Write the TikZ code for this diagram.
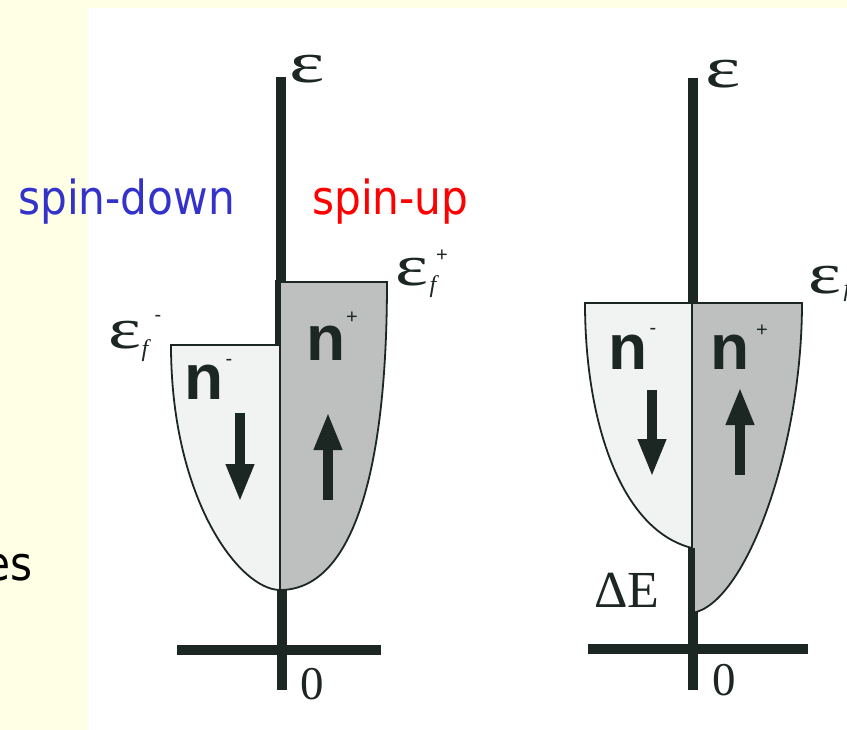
\documentclass[tikz,border=0pt]{standalone}
\usepackage{fontspec}
\usepackage{graphicx}
\usetikzlibrary{arrows.meta}
\setmainfont{Liberation Serif}
\newfontfamily\tah{DejaVu Sans}[FakeStretch=0.9]
\newfontfamily\hel{Liberation Sans}
\definecolor{cream}{RGB}{255,255,229}
\definecolor{ink}{RGB}{28,38,34}
\definecolor{upgrey}{RGB}{190,192,192}
\definecolor{dngrey}{RGB}{241,242,242}
\definecolor{spinblue}{RGB}{51,51,204}
\definecolor{spinred}{RGB}{255,0,0}
\begin{document}
\begin{tikzpicture}[x=1pt,y=-1pt,
  axisline/.style={draw=ink,line width=10pt},
  outline/.style={draw=ink,line width=1.8pt},
  bigarrow/.style={draw=ink,line width=10pt,-{Triangle[width=26pt,length=38pt]}},
  lbl/.style={inner sep=0pt,text=ink},
  nlab/.style={lbl,font=\hel\bfseries\fontsize{64}{64}\selectfont},
  suplab/.style={lbl,font=\hel\fontsize{20}{20}\selectfont},
  epslab/.style={lbl,font=\fontsize{58}{58}\selectfont},
  sublab/.style={lbl,font=\itshape\fontsize{24}{24}\selectfont},
  numlab/.style={lbl,font=\fontsize{47}{47}\selectfont},
  spinlab/.style={inner sep=0pt,font=\tah\fontsize{47}{50}\selectfont}
]
\useasboundingbox (0,0) rectangle (847,730);
\fill[cream] (0,0) rectangle (847,730);
\fill[white] (88,8) rectangle (847,730);

% ---------- left diagram ----------
\path[fill=upgrey] (280,282) -- (387,282) .. controls (387,480) and (350,590) .. (280,590) -- cycle;
\path[fill=dngrey] (280,345) -- (171,345) .. controls (171,500) and (240,590) .. (280,590) -- cycle;
\draw[outline] (280,282) -- (387,282) .. controls (387,480) and (350,590) .. (280,590);
\draw[outline] (280,345) -- (171,345) .. controls (171,500) and (240,590) .. (280,590);
\draw[outline] (280,345) -- (280,590);
\draw[axisline] (281,77) -- (281,282);
\draw[draw=ink,line width=6pt] (278,280) -- (278,345);
\draw[axisline] (282,590) -- (282,690);
\draw[axisline] (177,650) -- (381,650);
\draw[bigarrow] (240,413) -- (240,502);
\draw[bigarrow] (328,500) -- (328,412);

\node[epslab] (epsL) at (307,69) {\scalebox{1.45}[1]{ε}};
\node[epslab] (efpL) at (412,272) {\scalebox{1.35}[1]{ε}};
\node[sublab] (efpLsub) at (433,287) {f};
\node[suplab] (efpLsup) at (442,256) {+};
\node[epslab] (efmL) at (125,335) {\scalebox{1.35}[1]{ε}};
\node[sublab] (efmLsub) at (145,351) {f};
\node[suplab] (efmLsup) at (158,318) {-};
\node[nlab] (nmL) at (204,382) {n};
\node[suplab] (nmLsup) at (229,362) {-};
\node[nlab] (npL) at (326,343) {n};
\node[suplab] (npLsup) at (352,318) {+};
\node[numlab] (zeroL) at (312,684) {0};

% ---------- right diagram ----------
\path[fill=dngrey] (692,303) -- (585,303) .. controls (585,420) and (620,530) .. (692,548) -- cycle;
\path[fill=upgrey] (692,303) -- (802,303) .. controls (802,450) and (745,605) .. (692,613) -- cycle;
\draw[outline] (692,303) -- (585,303) .. controls (585,420) and (620,530) .. (692,548);
\draw[outline] (692,303) -- (802,303) .. controls (802,450) and (745,605) .. (692,613);
\draw[outline] (692,303) -- (692,548);
\draw[axisline] (693,78) -- (693,303);
\draw[draw=ink,line width=7pt] (691,548) -- (691,614);
\draw[axisline] (693,612) -- (693,690);
\draw[axisline] (588,649) -- (808,649);
\draw[bigarrow] (652,390) -- (652,477);
\draw[bigarrow] (740,475) -- (740,387);

\node[epslab] (epsR) at (723,74) {\scalebox{1.45}[1]{ε}};
\node[epslab] (efR) at (825,280) {\scalebox{1.35}[1]{ε}};
\node[sublab] (efRsub) at (847,291) {f};
\node[nlab] (nmR) at (628,352) {n};
\node[suplab] (nmRsup) at (653,331) {-};
\node[nlab] (npR) at (730,352) {n};
\node[suplab] (npRsup) at (762,331) {+};
\node[lbl,font=\fontsize{52}{52}\selectfont] (dE) at (627,590) {ΔE};
\node[numlab] (zeroR) at (724,680) {0};

% ---------- slide texts ----------
\node[spinlab,text=spinblue,anchor=base west] (sdown) at (18,215) {spin-down};
\node[spinlab,text=spinred,anchor=base west] (sup) at (312,215) {spin-up};
\node[spinlab,text=black,anchor=base east] (es) at (33,580) {es};
\end{tikzpicture}
\end{document}
